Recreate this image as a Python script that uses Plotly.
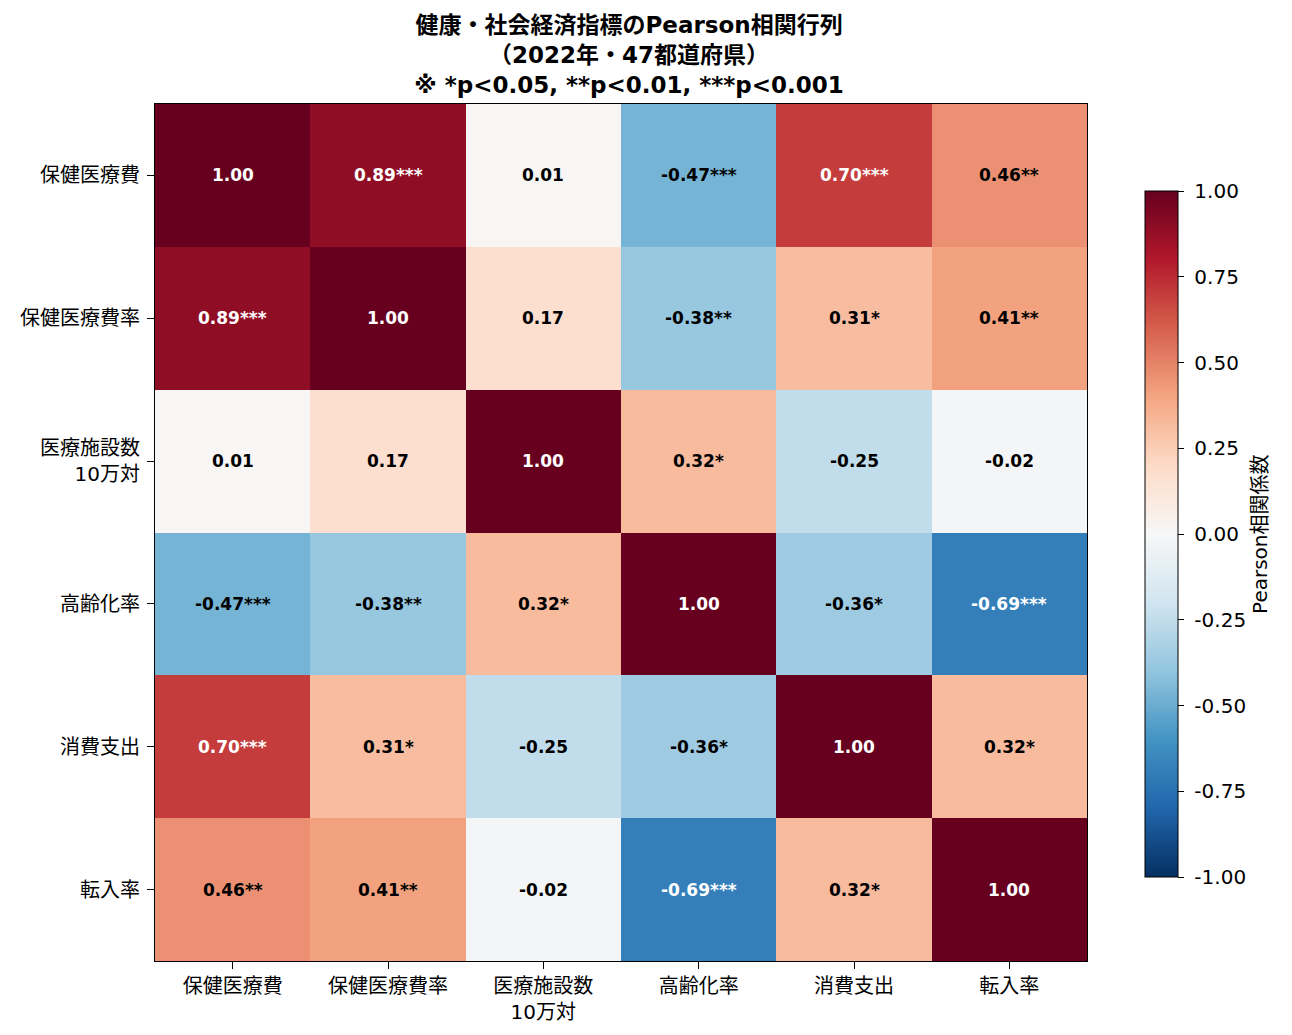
import plotly.graph_objects as go

labels = ["保健医療費", "保健医療費率", "医療施設数<br>10万対", "高齢化率", "消費支出", "転入率"]

corr = [
    [1.00, 0.89, 0.01, -0.47, 0.70, 0.46],
    [0.89, 1.00, 0.17, -0.38, 0.31, 0.41],
    [0.01, 0.17, 1.00, 0.32, -0.25, -0.02],
    [-0.47, -0.38, 0.32, 1.00, -0.36, -0.69],
    [0.70, 0.31, -0.25, -0.36, 1.00, 0.32],
    [0.46, 0.41, -0.02, -0.69, 0.32, 1.00],
]

stars = [
    ["", "***", "", "***", "***", "**"],
    ["***", "", "", "**", "*", "**"],
    ["", "", "", "*", "", ""],
    ["***", "**", "*", "", "*", "***"],
    ["***", "*", "", "*", "", "*"],
    ["**", "**", "", "***", "*", ""],
]

cbar_ticks = [-1, -0.75, -0.5, -0.25, 0, 0.25, 0.5, 0.75, 1]

# matplotlib RdBu_r
rdbu_r = ["#053061", "#2166ac", "#4393c3", "#92c5de", "#d1e5f0", "#f7f7f7",
          "#fddbc7", "#f4a582", "#d6604d", "#b2182b", "#67001f"]
colorscale = [[i / 10, c] for i, c in enumerate(rdbu_r)]

font = "DejaVu Sans, Noto Sans CJK JP"
idx = list(range(len(labels)))

fig = go.Figure(go.Heatmap(
    z=corr, x=idx, y=idx,
    colorscale=colorscale, zmin=-1, zmax=1,
    hoverinfo="z",
    colorbar=dict(
        x=1.0622, xanchor="left", xpad=0,
        y=0.498, yanchor="middle", ypad=0,
        len=0.80, thickness=33,
        outlinecolor="black", outlinewidth=1,
        ticks="outside", ticklen=6, tickcolor="black",
        tickvals=cbar_ticks,
        ticktext=[" " + f"{t:.2f}" for t in cbar_ticks],
        tickfont=dict(size=20, color="black", family=font),
        title=dict(text="Pearson相関係数", side="right",
                   font=dict(size=20, color="black", family=font)),
    ),
))

for i, row in enumerate(corr):
    for j, v in enumerate(row):
        fig.add_annotation(
            x=j, y=i, text=f"<b>{v:.2f}{stars[i][j]}</b>", showarrow=False,
            font=dict(size=17, family=font, color="white" if abs(v) > 0.5 else "black"),
        )

axis_common = dict(
    showline=True, linecolor="black", linewidth=1, mirror=True,
    ticks="outside", ticklen=7, tickcolor="black",
    showgrid=False, zeroline=False,
    tickfont=dict(size=20, color="black", family=font),
)

fig.update_xaxes(tickvals=idx, ticktext=labels, range=[-0.5, 5.5],
                 ticklabelstandoff=0, **axis_common)
fig.update_yaxes(tickvals=idx, ticktext=labels, range=[5.5, -0.5],
                 ticklabelstandoff=3, **axis_common)

fig.update_layout(
    width=1292, height=1035,
    margin=dict(l=147, r=213, t=96, b=82),
    plot_bgcolor="white", paper_bgcolor="white",
    font=dict(family=font, color="black"),
    title=dict(
        text="<b>健康・社会経済指標のPearson相関行列<br>（2022年・47都道府県）<br>※ *p<0.05, **p<0.01, ***p<0.001</b>",
        x=0.4807, xanchor="center", y=0.976, yanchor="top",
        font=dict(size=23, color="black", family=font),
    ),
)

fig.write_html("out.html")
